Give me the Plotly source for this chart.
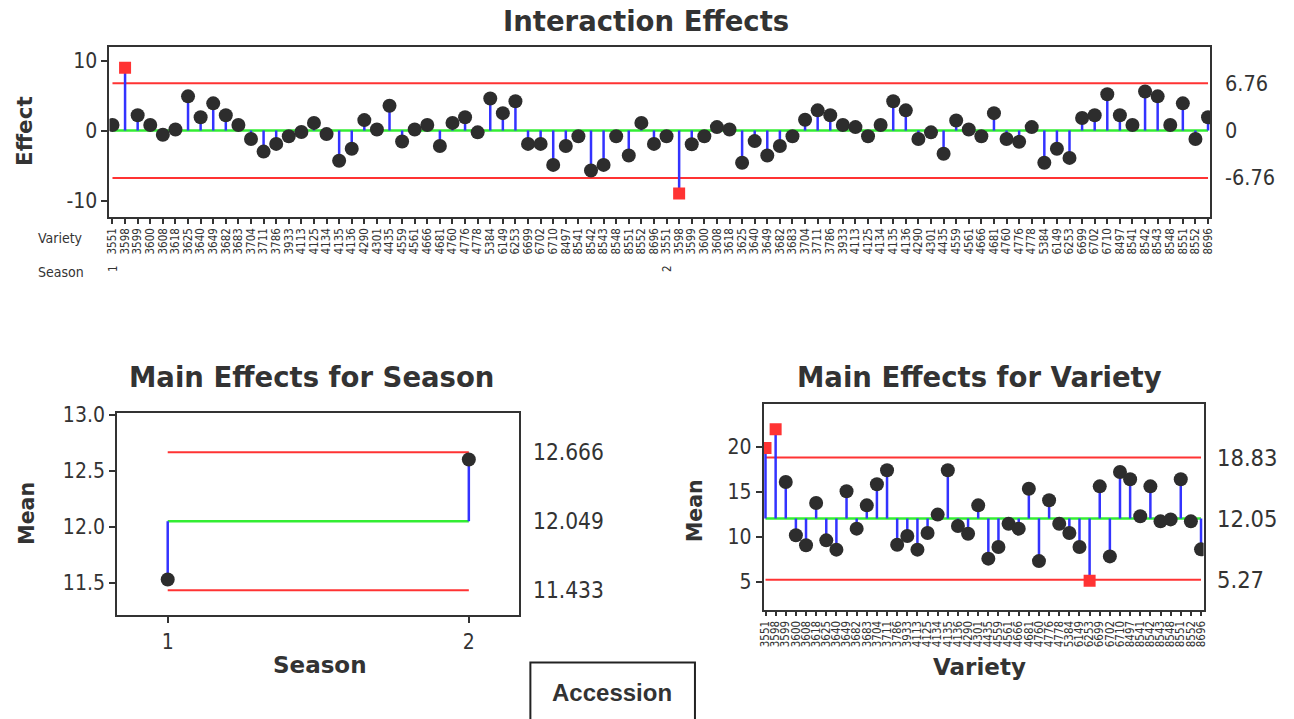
import plotly.graph_objects as go

# ---------------- data ----------------
varieties = ["3551","3598","3599","3600","3608","3618","3625","3640","3649","3682","3683",
             "3704","3711","3786","3933","4113","4125","4134","4135","4136","4290","4301",
             "4435","4559","4561","4666","4681","4760","4776","4778","5384","6149","6253",
             "6699","6702","6710","8497","8541","8542","8543","8548","8551","8552","8696"]
seasons = ["1", "2"]

interaction_s1 = [0.8, 9.0, 2.2, 0.8, -0.6, 0.15, 4.9, 1.9, 3.9, 2.2, 0.8, -1.2, -3.0, -1.9,
                  -0.8, -0.2, 1.1, -0.5, -4.3, -2.6, 1.5, 0.15, 3.55, -1.55, 0.15, 0.8, -2.2,
                  1.1, 1.9, -0.25, 4.6, 2.5, 4.2, -1.9, -1.9, -4.9, -2.2, -0.8, -5.7, -4.9,
                  -0.8, -3.55, 1.1, -1.9]
interaction_s2 = [-0.8, -9.0, -1.95, -0.8, 0.5, 0.15, -4.6, -1.5, -3.55, -2.2, -0.8, 1.55, 2.9,
                  2.2, 0.8, 0.5, -0.8, 0.8, 4.2, 2.9, -1.2, -0.25, -3.3, 1.45, 0.15, -0.8, 2.5,
                  -1.2, -1.6, 0.5, -4.6, -2.6, -3.9, 1.8, 2.2, 5.2, 2.2, 0.8, 5.6, 4.9, 0.8,
                  3.9, -1.2, 1.9]
interaction_limits = [-6.76, 0.0, 6.76]
interaction_limit_labels = ["-6.76", "0", "6.76"]
interaction_ticks = [-10, 0, 10]
interaction_tick_labels = ["-10", "0", "10"]

season_means = [11.53, 12.60]
season_limits = [11.433, 12.049, 12.666]
season_limit_labels = ["11.433", "12.049", "12.666"]
season_ticks = [11.5, 12.0, 12.5, 13.0]
season_tick_labels = ["11.5", "12.0", "12.5", "13.0"]

variety_means = [19.89, 21.97, 16.11, 10.19, 9.08, 13.78, 9.63, 8.60, 15.08, 10.93, 13.52,
                 15.86, 17.41, 9.15, 10.11, 8.60, 10.45, 12.49, 17.41, 11.22, 10.37, 13.52,
                 7.60, 8.89, 11.48, 10.93, 15.37, 7.33, 14.08, 11.48, 10.45, 8.89, 5.15,
                 15.63, 7.85, 17.22, 16.41, 12.30, 15.63, 11.74, 11.96, 16.41, 11.74, 8.63]
variety_limits = [5.27, 12.05, 18.83]
variety_limit_labels = ["5.27", "12.05", "18.83"]
variety_ticks = [5, 10, 15, 20]

# ---------------- styling helpers ----------------
W, H = 1294, 719
def px(x):
    return (x + (x - 600) * 0.006) / W
def py(y):
    return 1 - ((y - 9.3) / 0.9867) / H

FONT = "DejaVu Sans Condensed, DejaVu Sans, sans-serif"
BOLD = "DejaVu Sans, sans-serif"
TXT = "#333333"
RED = "#ff3333"
GREEN = "#33ee33"
BLUE = "#3333ff"
DOT = "#2d2d2d"

fig = go.Figure()

def add_anom(xs, vals, limits, xa, ya):
    lo, center, hi = limits
    x0, x1 = xs[0], xs[-1]
    for lvl, col, w in [(hi, RED, 2), (lo, RED, 2), (center, GREEN, 2.5)]:
        fig.add_trace(go.Scatter(x=[x0, x1], y=[lvl, lvl], mode="lines",
                                 line=dict(color=col, width=w), xaxis=xa, yaxis=ya,
                                 hoverinfo="skip", showlegend=False))
    sx, sy = [], []
    for x, v in zip(xs, vals):
        sx += [x, x, None]
        sy += [center, v, None]
    fig.add_trace(go.Scatter(x=sx, y=sy, mode="lines", line=dict(color=BLUE, width=2.5),
                             xaxis=xa, yaxis=ya, hoverinfo="skip", showlegend=False))
    inx = [x for x, v in zip(xs, vals) if lo <= v <= hi]
    iny = [v for v in vals if lo <= v <= hi]
    outx = [x for x, v in zip(xs, vals) if not (lo <= v <= hi)]
    outy = [v for v in vals if not (lo <= v <= hi)]
    fig.add_trace(go.Scatter(x=inx, y=iny, mode="markers",
                             marker=dict(symbol="circle", size=14, color=DOT, line=dict(width=0)),
                             xaxis=xa, yaxis=ya, showlegend=False))
    fig.add_trace(go.Scatter(x=outx, y=outy, mode="markers",
                             marker=dict(symbol="square", size=12, color=RED, line=dict(width=0)),
                             xaxis=xa, yaxis=ya, showlegend=False))

n_var = len(varieties)
top_x = list(range(1, 2 * n_var + 1))
top_vals = interaction_s1 + interaction_s2
add_anom(top_x, top_vals, interaction_limits, "x", "y")

season_x = list(range(1, len(seasons) + 1))
add_anom(season_x, season_means, season_limits, "x2", "y2")

var_x = list(range(1, n_var + 1))
add_anom(var_x, variety_means, variety_limits, "x3", "y3")

axis_common = dict(showline=True, mirror=True, linecolor="#333333", linewidth=2,
                   showgrid=False, zeroline=False, ticks="outside", tickcolor="#333333",
                   tickwidth=2)

fig.update_layout(
    width=W, height=H, autosize=False,
    margin=dict(l=0, r=0, t=0, b=0),
    paper_bgcolor="white", plot_bgcolor="white",
    font=dict(family=FONT, color=TXT),
    xaxis=dict(domain=[px(107.3), px(1210.7)], range=[0.76, 2 * n_var + 0.16],
               tickvals=top_x, ticktext=varieties + varieties, tickangle=-90,
               tickfont=dict(size=11.5, family=FONT, color=TXT), ticklen=5, anchor="y",
               **axis_common),
    yaxis=dict(domain=[py(216), py(46.7)], range=[-12.29, 11.9],
               tickvals=interaction_ticks, ticktext=interaction_tick_labels,
               tickfont=dict(size=21, family=FONT, color=TXT), ticklen=6, anchor="x",
               **axis_common),
    xaxis2=dict(domain=[px(115), px(518.3)], range=[0.832, 2.168], tickvals=season_x,
                ticktext=seasons, tickfont=dict(size=21, family=FONT, color=TXT), ticklen=6,
                anchor="y2", **axis_common),
    yaxis2=dict(domain=[py(615), py(412.7)], range=[11.21, 13.014],
                tickvals=season_ticks, ticktext=season_tick_labels,
                tickfont=dict(size=21, family=FONT, color=TXT), ticklen=6, anchor="x2",
                **axis_common),
    xaxis3=dict(domain=[px(763.3), px(1204.3)], range=[0.83, n_var + 0.26], tickvals=var_x,
                ticktext=varieties, tickangle=-90,
                tickfont=dict(size=11.5, family=FONT, color=TXT), ticklen=4, anchor="y3",
                **axis_common),
    yaxis3=dict(domain=[py(610), py(403.3)], range=[1.86, 24.8], tickvals=variety_ticks,
                tickfont=dict(size=21, family=FONT, color=TXT), ticklen=6, anchor="x3",
                **axis_common),
)

ann = []
def text(x, y, s, size, bold=False, angle=0, xanchor="center", xref="paper", yref="paper",
         family=None):
    ann.append(dict(x=x, y=y, xref=xref, yref=yref, text=s, showarrow=False,
                    textangle=angle, xanchor=xanchor, yanchor="middle",
                    font=dict(size=size, color=TXT,
                              family=family or (BOLD if bold else FONT),
                              weight="bold" if bold else "normal")))

text(px(645), py(20), "Interaction Effects", 27.5, bold=True)
text(px(22), py(130), "Effect", 21.5, bold=True, angle=-90)
text(px(34), py(237), "Variety", 14, xanchor="left")
text(px(34), py(271), "Season", 14, xanchor="left")
for i, s in enumerate(seasons):
    text(1 + i * n_var, py(268), s, 11.5, angle=-90, xref="x")
for v, lab in zip(interaction_limits, interaction_limit_labels):
    text(px(1224), v, lab, 21.5, xanchor="left", yref="y")

text(px(310), py(377), "Main Effects for Season", 27.5, bold=True)
text(px(25), py(513), "Mean", 20.5, bold=True, angle=-90)
text(px(318), py(665), "Season", 23, bold=True)
for v, lab in zip(season_limits, season_limit_labels):
    text(px(530), v, lab, 22.5, xanchor="left", yref="y2")

text(px(980), py(377), "Main Effects for Variety", 27.5, bold=True)
text(px(695), py(510), "Mean", 20.5, bold=True, angle=-90)
text(px(980), py(667), "Variety", 23, bold=True)
for v, lab in zip(variety_limits, variety_limit_labels):
    text(px(1216), v, lab, 23.5, xanchor="left", yref="y3")

text(px(611), py(692), "Accession", 24, bold=True, family="Liberation Sans, Arial, sans-serif")
fig.update_layout(annotations=ann)
fig.add_shape(type="rect", xref="paper", yref="paper", x0=px(529.3), x1=px(694.3),
              y0=py(740), y1=py(662.3), line=dict(color="#222222", width=2),
              fillcolor="rgba(0,0,0,0)")

fig.write_html("out.html", config={"displayModeBar": False},
               post_script="document.body.style.margin='0';document.body.style.overflow='hidden';")
